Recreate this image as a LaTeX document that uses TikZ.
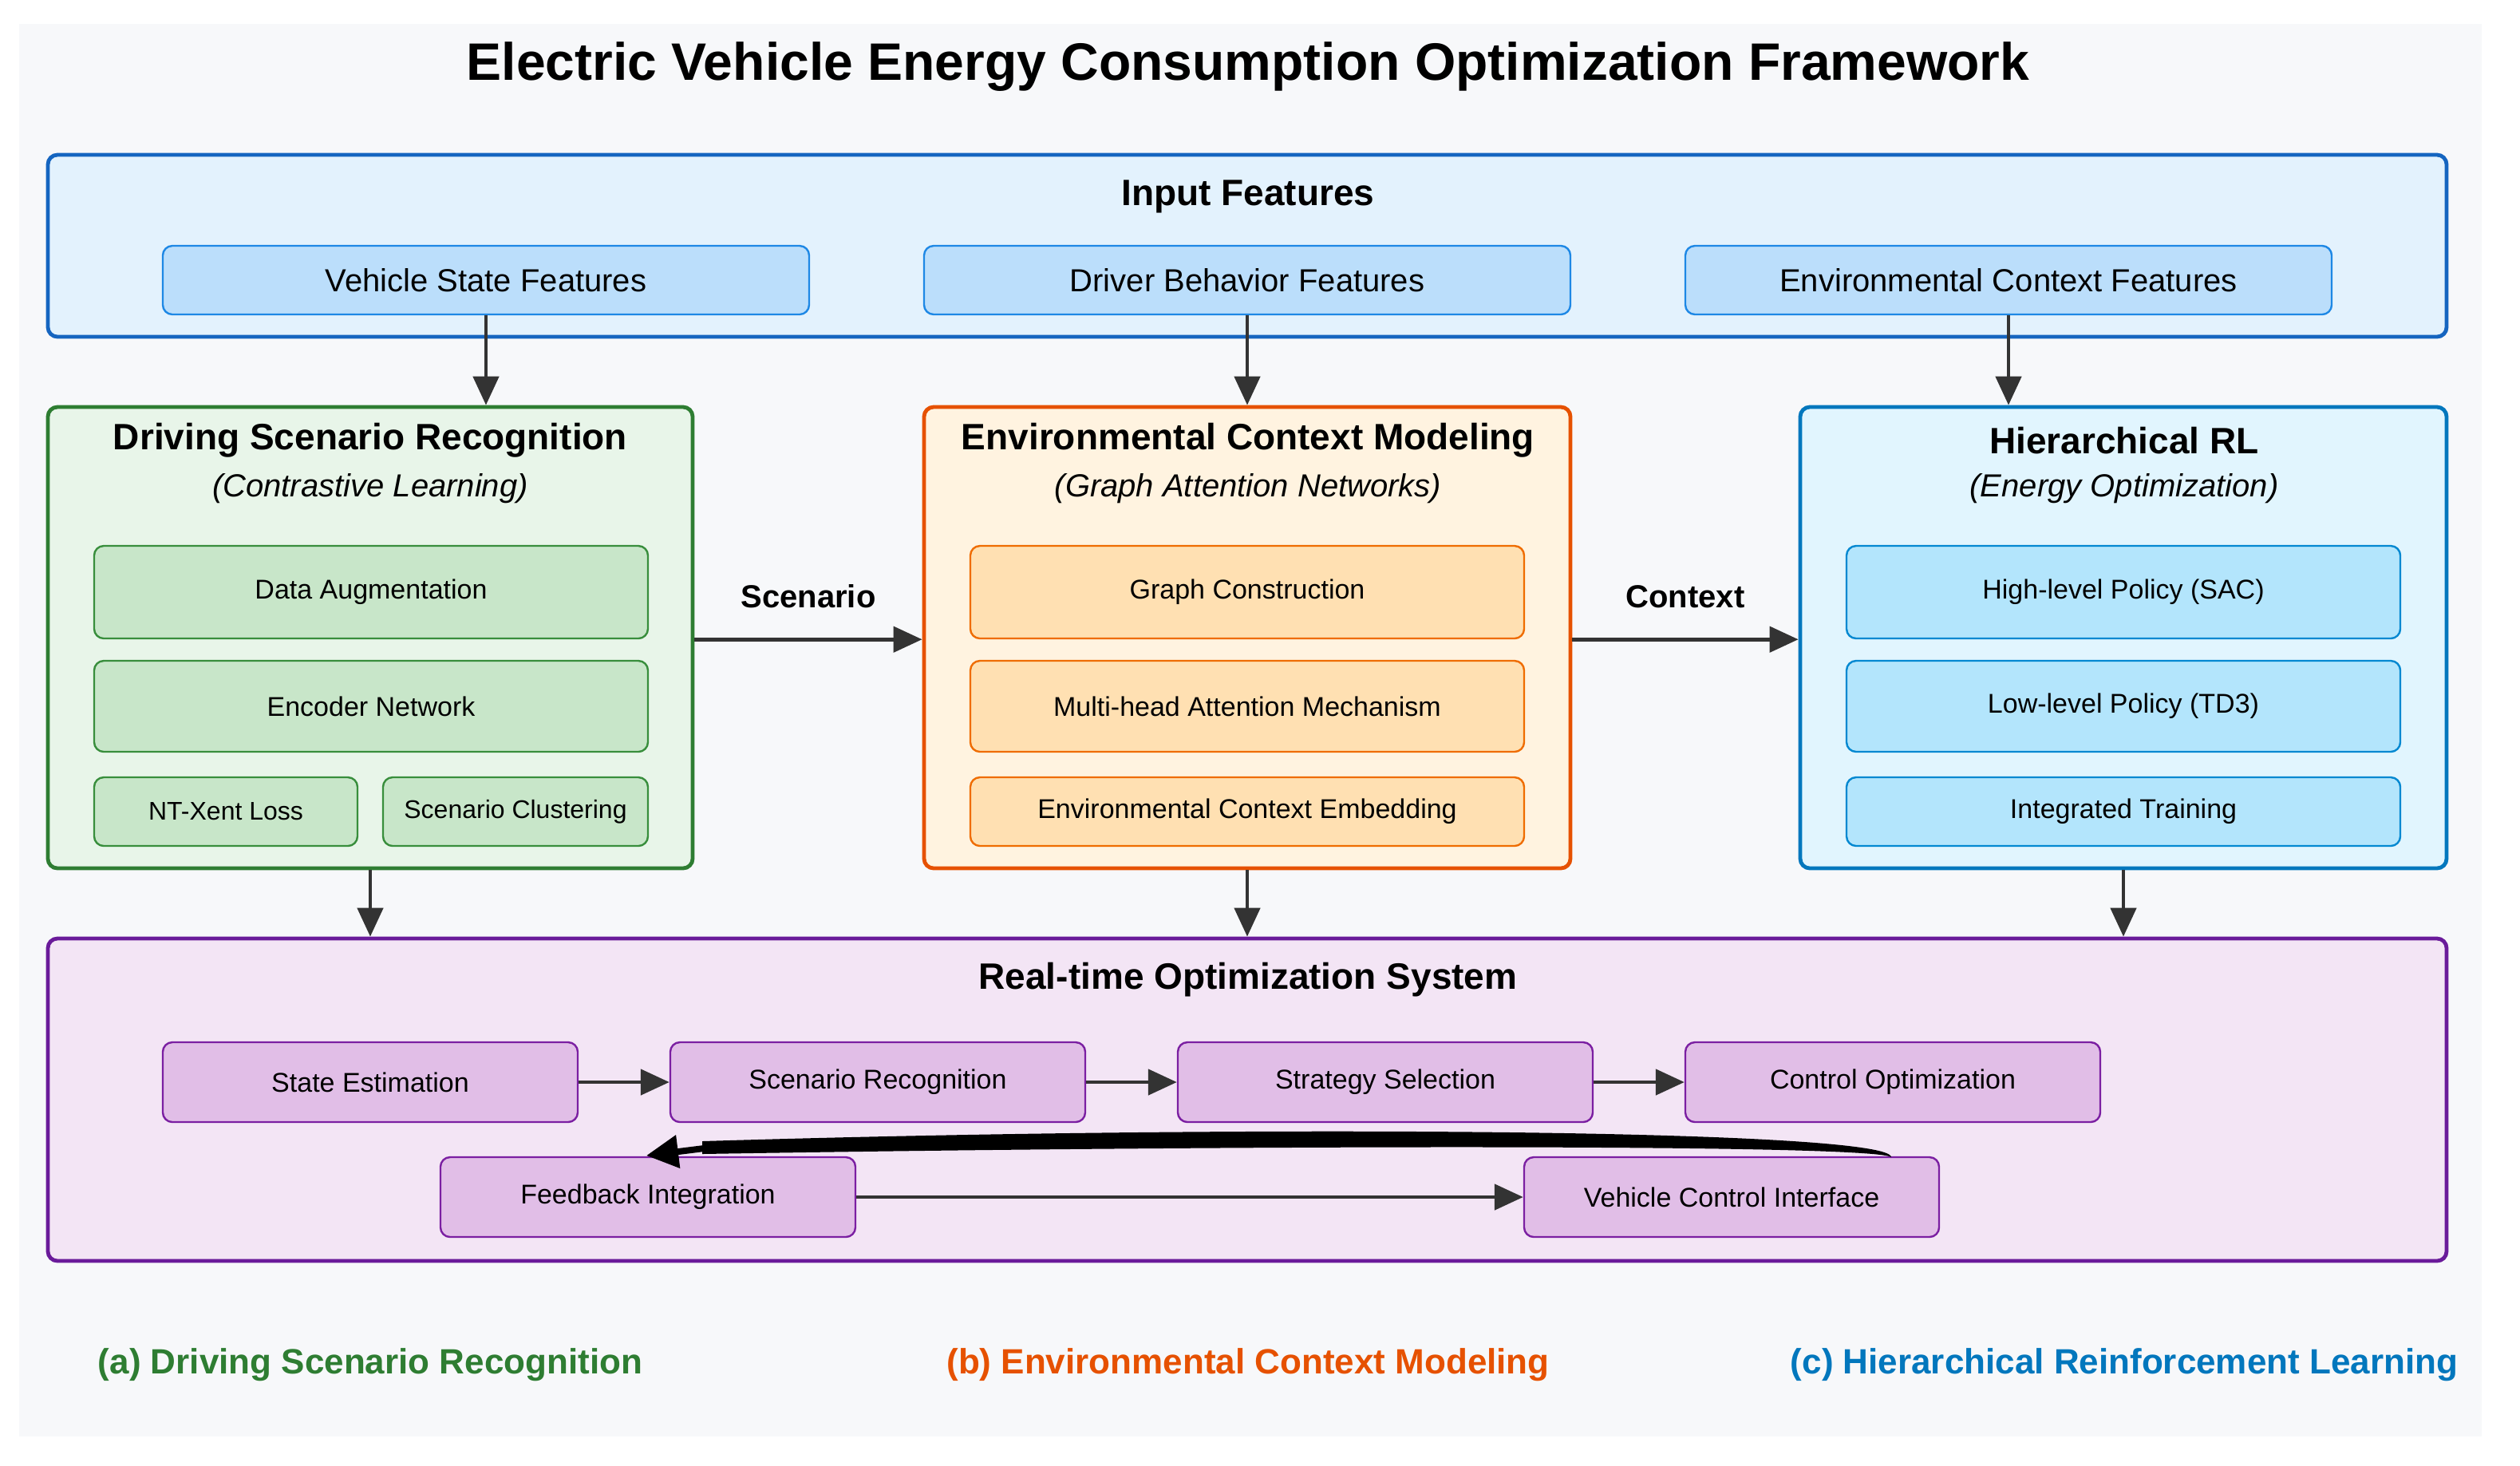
\documentclass[tikz,border=0pt]{standalone}
\usepackage{fontspec}
\setmainfont{Liberation Sans}
\usetikzlibrary{arrows.meta}
\begin{document}
\begin{tikzpicture}[x=0.5pt,y=-0.5pt,
 box/.style={draw,rounded corners=3pt,line width=1.2pt},
 sub/.style={draw,rounded corners=3pt,line width=0.6pt,font=\fontsize{8.5}{10}\selectfont},
 arr/.style={-{Triangle[length=9pt,width=8pt]},line width=1.2pt,draw=black!80},
 ttl/.style={font=\bfseries\fontsize{11.5}{13}\selectfont},
 sttl/.style={font=\itshape\fontsize{10}{12}\selectfont}]
\useasboundingbox (0,0) rectangle (1579,918);
\fill[white] (0,0) rectangle (1579,918);
\fill[color={rgb,255:red,247;green,248;blue,250}] (12,15) rectangle (1555,900);
\node[font=\bfseries\fontsize{16.5}{18}\selectfont] (title) at (782,42) {Electric Vehicle Energy Consumption Optimization Framework};
% Input
\node[box,fill={rgb,255:red,227;green,242;blue,253},draw={rgb,255:red,21;green,101;blue,192},minimum width=751.5pt,minimum height=57pt] (inp) at (781.5,154) {};
\node[ttl] at (782,123) {Input Features};
\tikzset{ib/.style={sub,fill={rgb,255:red,187;green,222;blue,251},draw={rgb,255:red,30;green,136;blue,229},minimum width=202.5pt,minimum height=21.5pt,font=\fontsize{10}{12}\selectfont}}
\node[ib] (i1) at (304.5,175.5) {Vehicle State Features};
\node[ib] (i2) at (781.5,175.5) {Driver Behavior Features};
\node[ib] (i3) at (1258.5,175.5) {Environmental Context Features};
% Green
\node[box,fill={rgb,255:red,232;green,245;blue,233},draw={rgb,255:red,46;green,125;blue,50},minimum width=202pt,minimum height=144.5pt] (g) at (232,399.5) {};
\node[ttl] at (232,276) {Driving Scenario Recognition};
\node[sttl] at (232,306) {(Contrastive Learning)};
\tikzset{gb/.style={sub,fill={rgb,255:red,200;green,230;blue,201},draw={rgb,255:red,56;green,142;blue,60}}}
\node[gb,minimum width=173.5pt,minimum height=29pt] (g1) at (232.5,371) {Data Augmentation};
\node[gb,minimum width=173.5pt,minimum height=28.5pt] (g2) at (232.5,442.5) {Encoder Network};
\node[gb,minimum width=82.5pt,minimum height=21.5pt,font=\fontsize{8}{10}\selectfont] (g3) at (141.5,508.5) {NT-Xent Loss};
\node[gb,minimum width=83pt,minimum height=21.5pt,font=\fontsize{8}{10}\selectfont] (g4) at (323,508.5) {Scenario Clustering};
% Orange
\node[box,fill={rgb,255:red,255;green,243;blue,224},draw={rgb,255:red,230;green,81;blue,0},minimum width=202.5pt,minimum height=144.5pt] (o) at (781.5,399.5) {};
\node[ttl] at (782,276) {Environmental Context Modeling};
\node[sttl] at (782,306) {(Graph Attention Networks)};
\tikzset{ob/.style={sub,fill={rgb,255:red,255;green,224;blue,178},draw={rgb,255:red,239;green,108;blue,0},minimum width=173.5pt}}
\node[ob,minimum height=29pt] (o1) at (781.5,371) {Graph Construction};
\node[ob,minimum height=28.5pt] (o2) at (781.5,442.5) {Multi-head Attention Mechanism};
\node[ob,minimum height=21.5pt] (o3) at (781.5,508.5) {Environmental Context Embedding};
% Blue
\node[box,fill={rgb,255:red,225;green,245;blue,254},draw={rgb,255:red,2;green,119;blue,189},minimum width=202.5pt,minimum height=144.5pt] (b) at (1330.5,399.5) {};
\node[ttl] at (1331,276) {Hierarchical RL};
\node[sttl] at (1331,306) {(Energy Optimization)};
\tikzset{bb/.style={sub,fill={rgb,255:red,179;green,229;blue,252},draw={rgb,255:red,2;green,136;blue,209},minimum width=173.5pt}}
\node[bb,minimum height=29pt] (b1) at (1330.5,371) {High-level Policy (SAC)};
\node[bb,minimum height=28.5pt] (b2) at (1330.5,442.5) {Low-level Policy (TD3)};
\node[bb,minimum height=21.5pt] (b3) at (1330.5,508.5) {Integrated Training};
% Purple
\node[box,fill={rgb,255:red,243;green,229;blue,245},draw={rgb,255:red,106;green,27;blue,154},minimum width=751.5pt,minimum height=101pt] (p) at (781.5,689) {};
\node[ttl] at (782,614) {Real-time Optimization System};
\tikzset{pb/.style={sub,fill={rgb,255:red,225;green,190;blue,231},draw={rgb,255:red,123;green,31;blue,162},minimum width=130pt,minimum height=25pt}}
\node[pb] (r1) at (232,678) {State Estimation};
\node[pb] (r2) at (550,678) {Scenario Recognition};
\node[pb] (r3) at (868,678) {Strategy Selection};
\node[pb] (r4) at (1186,678) {Control Optimization};
\node[pb] (r5) at (406,750) {Feedback Integration};
\node[pb] (r6) at (1085,750) {Vehicle Control Interface};
% arrows
\draw[arr] (i1) -- (i1|-g.north);
\draw[arr] (i2) -- (i2|-o.north);
\draw[arr] (i3) -- (i3|-b.north);
\draw[arr] (g.east|-g1.south) -- node[above=6pt,font=\bfseries\fontsize{10}{12}\selectfont]{Scenario} (o.west|-g1.south);
\draw[arr] (o.east|-o1.south) -- node[above=6pt,font=\bfseries\fontsize{10}{12}\selectfont]{Context} (b.west|-o1.south);
\draw[arr] (g.south) -- (g.south|-p.north);
\draw[arr] (o.south) -- (o.south|-p.north);
\draw[arr] (b.south) -- (b.south|-p.north);
\draw[arr] (r1) -- (r2);
\draw[arr] (r2) -- (r3);
\draw[arr] (r3) -- (r4);
\draw[arr] (r5) -- (r6);
\coordinate (c1) at (1185,725);
\fill[black] (c1) .. controls (1185,708) and (800,704) .. (440,715) -- (440,723) .. controls (800,717) and (1175,717) .. (c1);
\draw[-{Triangle[length=10pt,width=10pt]},line width=2pt] (445,719) -- (405,724);
% bottom labels
\node[font=\bfseries\fontsize{11}{13}\selectfont,text={rgb,255:red,46;green,125;blue,50}] (la) at (232,855) {(a) Driving Scenario Recognition};
\node[font=\bfseries\fontsize{11}{13}\selectfont,text={rgb,255:red,230;green,81;blue,0}] (lb) at (782,855) {(b) Environmental Context Modeling};
\node[font=\bfseries\fontsize{11}{13}\selectfont,text={rgb,255:red,2;green,119;blue,189}] (lc) at (1331,855) {(c) Hierarchical Reinforcement Learning};
\end{tikzpicture}
\end{document}
